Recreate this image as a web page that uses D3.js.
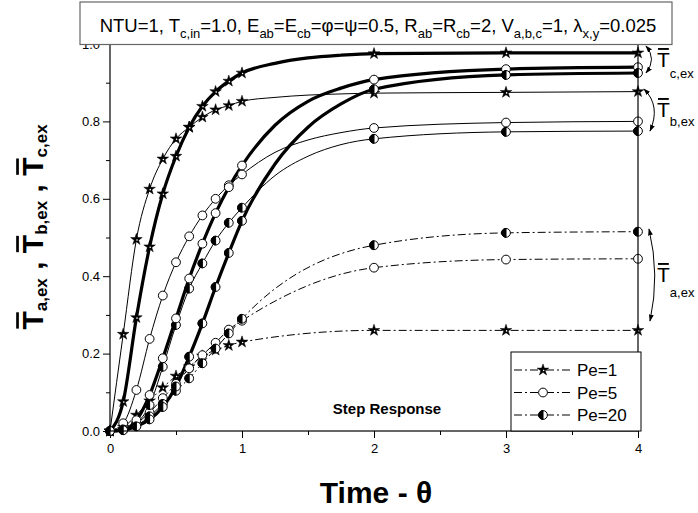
<!DOCTYPE html>
<html><head><meta charset="utf-8">
<script src="https://cdn.jsdelivr.net/npm/d3@7"></script>
<style>body{margin:0;background:#fff;} svg{display:block;font-family:"Liberation Sans",Arial,sans-serif;}</style>
</head><body><svg id="c" width="698" height="513"></svg>
<script>
// ---------- data ----------
const timesFine = [0,0.1,0.2,0.3,0.4,0.5,0.6,0.7,0.8,0.9,1.0,1.25,1.5,1.75,2,3,4];
const timesA    = [0,0.1,0.2,0.3,0.4,0.5,0.6,0.7,0.8,0.9,1.0,2,3,4];
const markerTimes = [0,0.1,0.2,0.3,0.4,0.5,0.6,0.7,0.8,0.9,1.0,2,3,4];
const peLabels = ["Pe=1","Pe=5","Pe=20"];

const Ta_Pe1  = [0,0.010,0.041,0.078,0.112,0.142,0.166,0.194,0.209,0.221,0.230,0.260,0.260,0.260];
const Ta_Pe5  = [0,0.004,0.020,0.048,0.085,0.122,0.162,0.196,0.228,0.262,0.285,0.422,0.443,0.445];
const Ta_Pe20 = [0,0.003,0.014,0.038,0.070,0.104,0.136,0.175,0.213,0.252,0.290,0.480,0.512,0.515];

const Tb_Pe1  = [0,0.250,0.495,0.625,0.703,0.755,0.785,0.811,0.830,0.841,0.852,0.862,0.868,0.871,0.873,0.875,0.877];
const Tb_Pe5  = [0,0.020,0.106,0.238,0.350,0.436,0.503,0.557,0.600,0.635,0.663,0.720,0.752,0.771,0.783,0.797,0.800];
const Tb_Pe20 = [0,0.004,0.020,0.067,0.166,0.274,0.368,0.433,0.492,0.538,0.577,0.660,0.710,0.740,0.755,0.773,0.775];

const Tc_Pe1  = [0,0.076,0.293,0.476,0.613,0.710,0.785,0.839,0.877,0.904,0.925,0.950,0.964,0.971,0.975,0.977,0.977];
const Tc_Pe5  = [0,0.003,0.028,0.093,0.188,0.291,0.394,0.484,0.563,0.630,0.686,0.790,0.852,0.886,0.908,0.935,0.940];
const Tc_Pe20 = [0,0.002,0.012,0.030,0.062,0.115,0.192,0.278,0.372,0.460,0.543,0.690,0.785,0.845,0.883,0.920,0.925];

const xTicks = [0,1,2,3,4];
const xMinor = [0.5,1.5,2.5,3.5];
const yTicks = [0,0.2,0.4,0.6,0.8,1.0];
const yMinor = [0.1,0.3,0.5,0.7,0.9];

const titleParts = [["NTU=1, T"],["c,in",1],["=1.0, E"],["ab",1],["=E"],["cb",1],["=φ=ψ=0.5, R"],["ab",1],["=R"],["cb",1],["=2, V"],["a,b,c",1],["=1, λ"],["x,y",1],["=0.025"]];

// ---------- layout ----------
const FONT = "Liberation Sans, Arial, sans-serif";
const svg = d3.select("#c");
const L=110, R=638, T=44, B=431;
const x = d3.scaleLinear().domain([0,4]).range([L,R]);
const y = d3.scaleLinear().domain([0,1]).range([B,T]);

const series = [
  {t:timesA, v:Ta_Pe1, m:"star", k:"a"},
  {t:timesA, v:Ta_Pe5, m:"circle", k:"a"},
  {t:timesA, v:Ta_Pe20, m:"half", k:"a"},
  {t:timesFine, v:Tb_Pe1, m:"star", k:"b"},
  {t:timesFine, v:Tb_Pe5, m:"circle", k:"b"},
  {t:timesFine, v:Tb_Pe20, m:"half", k:"b"},
  {t:timesFine, v:Tc_Pe1, m:"star", k:"c"},
  {t:timesFine, v:Tc_Pe5, m:"circle", k:"c"},
  {t:timesFine, v:Tc_Pe20, m:"half", k:"c"},
];
const DASH = "8,3,2,3";

// axes
const fs = 13;
const gx = svg.append("g").attr("transform",`translate(0,${B})`)
  .call(d3.axisBottom(x).tickValues(xTicks).tickSize(7).tickPadding(6).tickFormat(d3.format("d")));
const gxm = svg.append("g").attr("transform",`translate(0,${B})`)
  .call(d3.axisBottom(x).tickValues(xMinor).tickSize(4).tickFormat(""));
const gy = svg.append("g").attr("transform",`translate(${L},0)`)
  .call(d3.axisLeft(y).tickValues(yTicks).tickSize(7).tickPadding(3).tickFormat(d3.format(".1f")));
const gym = svg.append("g").attr("transform",`translate(${L},0)`)
  .call(d3.axisLeft(y).tickValues(yMinor).tickSize(4).tickFormat(""));
[gx,gxm,gy,gym].forEach(g=>{g.attr("font-family",FONT); g.select(".domain").remove(); g.selectAll("text").attr("font-size",fs).attr("font-family",FONT).attr("fill","#000"); g.selectAll("line").attr("stroke","#000");});

// clip
svg.append("clipPath").attr("id","clip").append("rect").attr("x",L-6).attr("y",T-6).attr("width",R-L+12).attr("height",B-T+12);

const line = d3.line().x(d=>x(d[0])).y(d=>y(d[1])).curve(d3.curveMonotoneX);
const gLines = svg.append("g").attr("clip-path","url(#clip)");
series.forEach(s=>{
  const pts = s.t.map((t,i)=>[t,s.v[i]]);
  gLines.append("path").attr("d",line(pts)).attr("fill","none").attr("stroke","#000")
    .attr("stroke-width", s.k==="c"?3.2:1)
    .attr("stroke-dasharray", s.k==="a"?DASH:null);
});

function drawMarker(g, type, cx, cy){
  if(type==="star"){
    g.append("path").attr("d",d3.symbol(d3.symbolStar,42)()).attr("transform",`translate(${cx},${cy})`)
      .attr("fill","#000").attr("stroke","#000").attr("stroke-width",0.5);
    g.append("circle").attr("cx",cx+0.6).attr("cy",cy+0.5).attr("r",0.8).attr("fill","#fff");
  } else {
    const r=4.4;
    g.append("circle").attr("cx",cx).attr("cy",cy).attr("r",r).attr("fill","#fff").attr("stroke","#000").attr("stroke-width",1);
    if(type==="half"){
      g.append("path").attr("d",`M0,${-r}A${r},${r} 0 0 0 0,${r}Z`).attr("transform",`translate(${cx},${cy})`).attr("fill","#000").attr("stroke","#000").attr("stroke-width",1);
    }
  }
}
const gMarks = svg.append("g");
series.forEach(s=>{
  s.t.forEach((t,i)=>{
    if(markerTimes.some(m=>Math.abs(m-t)<1e-9)) drawMarker(gMarks, s.m, x(t), y(s.v[i]));
  });
});

// frame
svg.append("rect").attr("x",L).attr("y",T).attr("width",R-L).attr("height",B-T).attr("fill","none").attr("stroke","#000").attr("stroke-width",1.2);

// rich text helper
function rich(g, x0, y0, parts, opt){
  const t = g.append("text").attr("x",x0).attr("y",y0).attr("font-size",opt.fs).attr("font-family",FONT).attr("font-weight",opt.bold?"bold":"normal")
    .attr("text-anchor",opt.anchor||"start").attr("fill","#000");
  let shift=0;
  parts.forEach(p=>{
    const sub = p[1]===1;
    const want = sub?opt.sub:0;
    t.append("tspan").attr("dy",want-shift).attr("font-size",sub?opt.sfs:opt.fs).text(p[0]);
    shift=want;
  });
  return t;
}
function bars(g, textSel, charIdxs, fsz, gap){
  const node=textSel.node();
  charIdxs.forEach(ci=>{
    const e=node.getExtentOfChar(ci);
    const base = +textSel.attr("y");
    const yb = base - 0.716*fsz - gap;
    g.append("line").attr("x1",e.x+1).attr("x2",e.x+e.width-1).attr("y1",yb).attr("y2",yb).attr("stroke","#000").attr("stroke-width",fsz*0.09);
  });
}

// title box
svg.append("rect").attr("x",80).attr("y",2).attr("width",592).attr("height",42.5).attr("fill","#fff").attr("stroke","#666").attr("stroke-width",1.2);
rich(svg, 378, 32, titleParts, {fs:18.5, sfs:13, sub:6, anchor:"middle"});

// y label
const gyl = svg.append("g").attr("transform","translate(43,227) rotate(-90)");
const ylParts=[["T"],["a,ex",1],[" , T"],["b,ex",1],[" , T"],["c,ex",1]];
const ylt = rich(gyl, 0, 0, ylParts, {fs:30, sfs:17, sub:4, bold:true, anchor:"middle"});
bars(gyl, ylt, [0,8,16], 30, 4);

// x label
svg.append("text").attr("x",376).attr("y",503).attr("text-anchor","middle").attr("font-family",FONT).attr("font-size",30).attr("font-weight","bold").text("Time - θ");

// Step response
svg.append("text").attr("x",387).attr("y",414).attr("text-anchor","middle").attr("font-family",FONT).attr("font-size",15).attr("font-weight","bold").text("Step Response");

// legend
const lg = svg.append("g");
lg.append("rect").attr("x",511).attr("y",352).attr("width",130).attr("height",79).attr("fill","#fff").attr("stroke","#000").attr("stroke-width",1);
["star","circle","half"].forEach((m,i)=>{
  const cy = 370 + i*22.5;
  lg.append("line").attr("x1",514).attr("x2",572).attr("y1",cy).attr("y2",cy).attr("stroke","#000").attr("stroke-dasharray",DASH);
  drawMarker(lg, m, 543, cy);
  lg.append("text").attr("x",577).attr("y",cy+6).attr("font-family",FONT).attr("font-size",17).text(peLabels[i]);
});

// right annotations
const defs = svg.append("defs");
defs.append("marker").attr("id","ah").attr("viewBox","0 0 10 10").attr("refX",9).attr("refY",5)
  .attr("markerWidth",7).attr("markerHeight",7).attr("orient","auto-start-reverse")
  .append("path").attr("d","M0,1.5L10,5L0,8.5Z").attr("fill","#000");
const arcs = [
  {p:[[646,46],[657,59],[646,73]], lab:"c,ex", tx:657, ty:67, sy:11},
  {p:[[644,89],[661,106],[650,131]], lab:"b,ex", tx:657, ty:117, sy:9},
  {p:[[649,229],[660,275],[650,321]], lab:"a,ex", tx:657, ty:282, sy:15},
];
arcs.forEach(a=>{
  svg.append("path").attr("d",`M${a.p[0]}Q${a.p[1]} ${a.p[2]}`).attr("fill","none").attr("stroke","#000").attr("stroke-width",1)
    .attr("marker-start","url(#ah)").attr("marker-end","url(#ah)");
  const t = rich(svg, a.tx, a.ty, [["T"],[a.lab,1]], {fs:21, sfs:13, sub:a.sy});
  bars(svg, t, [0], 21, 3);
});
</script></body></html>
